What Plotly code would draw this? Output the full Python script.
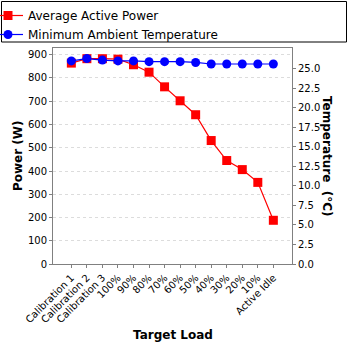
import plotly.graph_objects as go

categories = ["Calibration 1", "Calibration 2", "Calibration 3", "100%", "90%", "80%",
              "70%", "60%", "50%", "40%", "30%", "20%", "10%", "Active Idle"]
power_w = [864, 883, 883, 881, 857, 825, 762, 702, 642, 531, 445, 406, 351, 188]
temp_c = [26.0, 26.3, 26.1, 26.0, 26.0, 25.9, 25.9, 25.9, 25.8, 25.6, 25.6, 25.6, 25.6, 25.6]
temp_ticks = [0.0, 2.5, 5.0, 7.5, 10.0, 12.5, 15.0, 17.5, 20.0, 22.5, 25.0]

FONT = "DejaVu Sans"
fig = go.Figure()
fig.add_trace(go.Scatter(x=categories, y=power_w, name="Average Active Power",
                         mode="lines+markers", yaxis="y",
                         line=dict(color="#ff0000", width=1.2),
                         marker=dict(symbol="square", size=9, color="#ff0000")))
fig.add_trace(go.Scatter(x=categories, y=temp_c, name="Minimum Ambient Temperature",
                         mode="lines+markers", yaxis="y2",
                         line=dict(color="#0000ff", width=1.2),
                         marker=dict(symbol="circle", size=9, color="#0000ff")))

L, R, T, B = 53, 56, 48, 84
W = 348 - L - R
H = 348 - T - B
def px(x):
    return (x - L) / W
def py(y):
    return (348 - B - y) / H

fig.update_layout(
    width=348, height=348,
    margin=dict(l=L, r=R, t=T, b=B, pad=0, autoexpand=False),
    paper_bgcolor="white", plot_bgcolor="white",
    font=dict(family=FONT, size=10, color="black"),
    showlegend=True,
    legend=dict(x=px(-12), y=py(1), xanchor="left", yanchor="top",
                bgcolor="rgba(0,0,0,0)", borderwidth=0,
                font=dict(family=FONT, size=12, color="black"),
                itemwidth=30, tracegroupgap=0),
    xaxis=dict(type="category", range=[-1.18, 14.2], showgrid=False, automargin=False,
               showline=True, linecolor="#808080", linewidth=1, mirror=True,
               ticks="outside", ticklen=3, tickcolor="#808080",
               tickangle=-45, tickfont=dict(size=10), zeroline=False),
    yaxis=dict(range=[0, 929], dtick=100, showgrid=True, gridcolor="#dcdcdc",
               griddash="3px,3px", gridwidth=1, showline=True, linecolor="#808080",
               ticks="outside", ticklen=3, tickcolor="#808080", zeroline=False,
               tickfont=dict(size=10), automargin=False),
    yaxis2=dict(range=[0, 27.65], tickmode="array", tickvals=temp_ticks,
                tickformat=".1f", overlaying="y",
                side="right", showgrid=False, showline=True, linecolor="#808080",
                ticks="outside", ticklen=3, tickcolor="#808080", zeroline=False,
                tickfont=dict(size=10), automargin=False),
    shapes=[dict(type="rect", xref="paper", yref="paper",
                 x0=px(1.5), x1=px(346.5), y0=py(42), y1=py(1.5),
                 line=dict(color="black", width=1), fillcolor="rgba(0,0,0,0)")],
    annotations=[
        dict(text="<b>Power (W)</b>", xref="paper", yref="paper", x=px(18), y=py(156),
             textangle=-90, showarrow=False, font=dict(size=12, family=FONT),
             xanchor="center", yanchor="middle"),
        dict(text="<b>Temperature\u00a0 (°C)</b>", xref="paper", yref="paper",
             x=px(327), y=py(156), textangle=90, showarrow=False,
             font=dict(size=12, family=FONT), xanchor="center", yanchor="middle"),
        dict(text="<b>Target Load</b>", xref="paper", yref="paper", x=px(172.5),
             y=py(335), showarrow=False, font=dict(size=12, family=FONT),
             xanchor="center", yanchor="middle"),
    ],
)
fig.write_html("out.html")
